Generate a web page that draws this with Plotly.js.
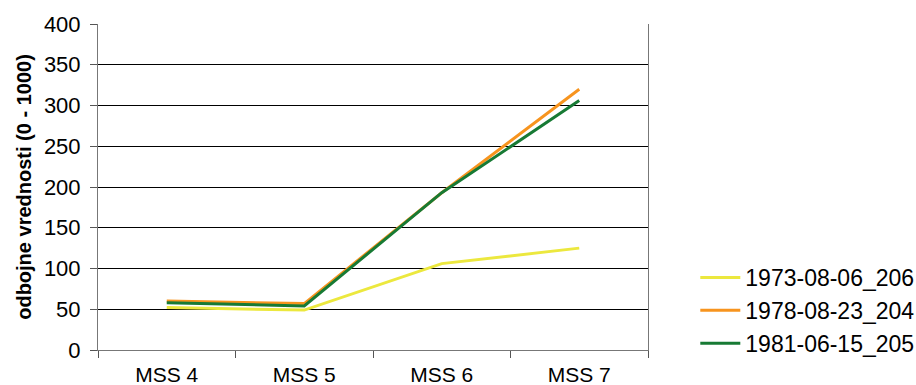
<!DOCTYPE html>
<html>
<head>
<meta charset="utf-8">
<script src="https://cdn.plot.ly/plotly-3.0.1.min.js"></script>
<style>
  html, body { margin: 0; padding: 0; background: #fff; }
  #chart { width: 916px; height: 385px; }
</style>
</head>
<body>
<div id="chart"></div>
<script>
// MSS bands on the x axis
const bands = ['MSS 4', 'MSS 5', 'MSS 6', 'MSS 7'];

// Reflectance values (0 - 1000 scale) per scene
const scene1973 = [52, 49, 106, 125];
const scene1978 = [60, 57, 193, 320];
const scene1981 = [58, 54, 193, 306];

const sceneNames = ['1973-08-06_206', '1978-08-23_204', '1981-06-15_205'];
const sceneColors = ['#ECE83E', '#F7941E', '#177A34'];
const sceneValues = [scene1973, scene1978, scene1981];

const traces = sceneValues.map((vals, i) => ({
  type: 'scatter',
  mode: 'lines',
  x: bands,
  y: vals,
  name: sceneNames[i],
  line: { color: sceneColors[i], width: 3 },
  hoverinfo: 'skip'
}));

const font = 'Arial, "Liberation Sans", Helvetica, sans-serif';

const layout = {
  width: 916,
  height: 385,
  margin: { l: 98, r: 268, t: 24, b: 35, autoexpand: false },
  paper_bgcolor: '#ffffff',
  plot_bgcolor: '#ffffff',
  font: { family: font, color: '#000', size: 20 },
  showlegend: true,
  legend: {
    x: 1.086, xanchor: 'left',
    y: -0.046, yanchor: 'bottom',
    font: { family: font, size: 23, color: '#000' },
    itemwidth: 40,
    bgcolor: 'rgba(0,0,0,0)'
  },
  xaxis: {
    type: 'category',
    range: [-0.5, 3.5],
    tickson: 'boundaries',
    ticks: 'outside',
    ticklen: 7,
    tickcolor: '#555',
    showline: true,
    linecolor: '#777',
    linewidth: 1,
    showgrid: false,
    zeroline: false,
    ticklabelstandoff: 6,
    tickfont: { family: font, size: 21, color: '#000' }
  },
  yaxis: {
    range: [0, 400],
    dtick: 50,
    tick0: 0,
    ticks: 'outside',
    ticklen: 7,
    tickcolor: '#555',
    showline: true,
    linecolor: '#777',
    linewidth: 1,
    mirror: true,
    showgrid: true,
    gridcolor: '#000',
    gridwidth: 1,
    zeroline: false,
    ticklabelstandoff: 5,
    tickfont: { family: font, size: 22, color: '#000' },
    title: {
      text: 'odbojne vrednosti (0 - 1000)',
      font: { family: font, size: 20, color: '#000', weight: 'bold' },
      standoff: 6
    }
  }
};

Plotly.newPlot('chart', traces, layout, { staticPlot: true, displayModeBar: false });
</script>
</body>
</html>
